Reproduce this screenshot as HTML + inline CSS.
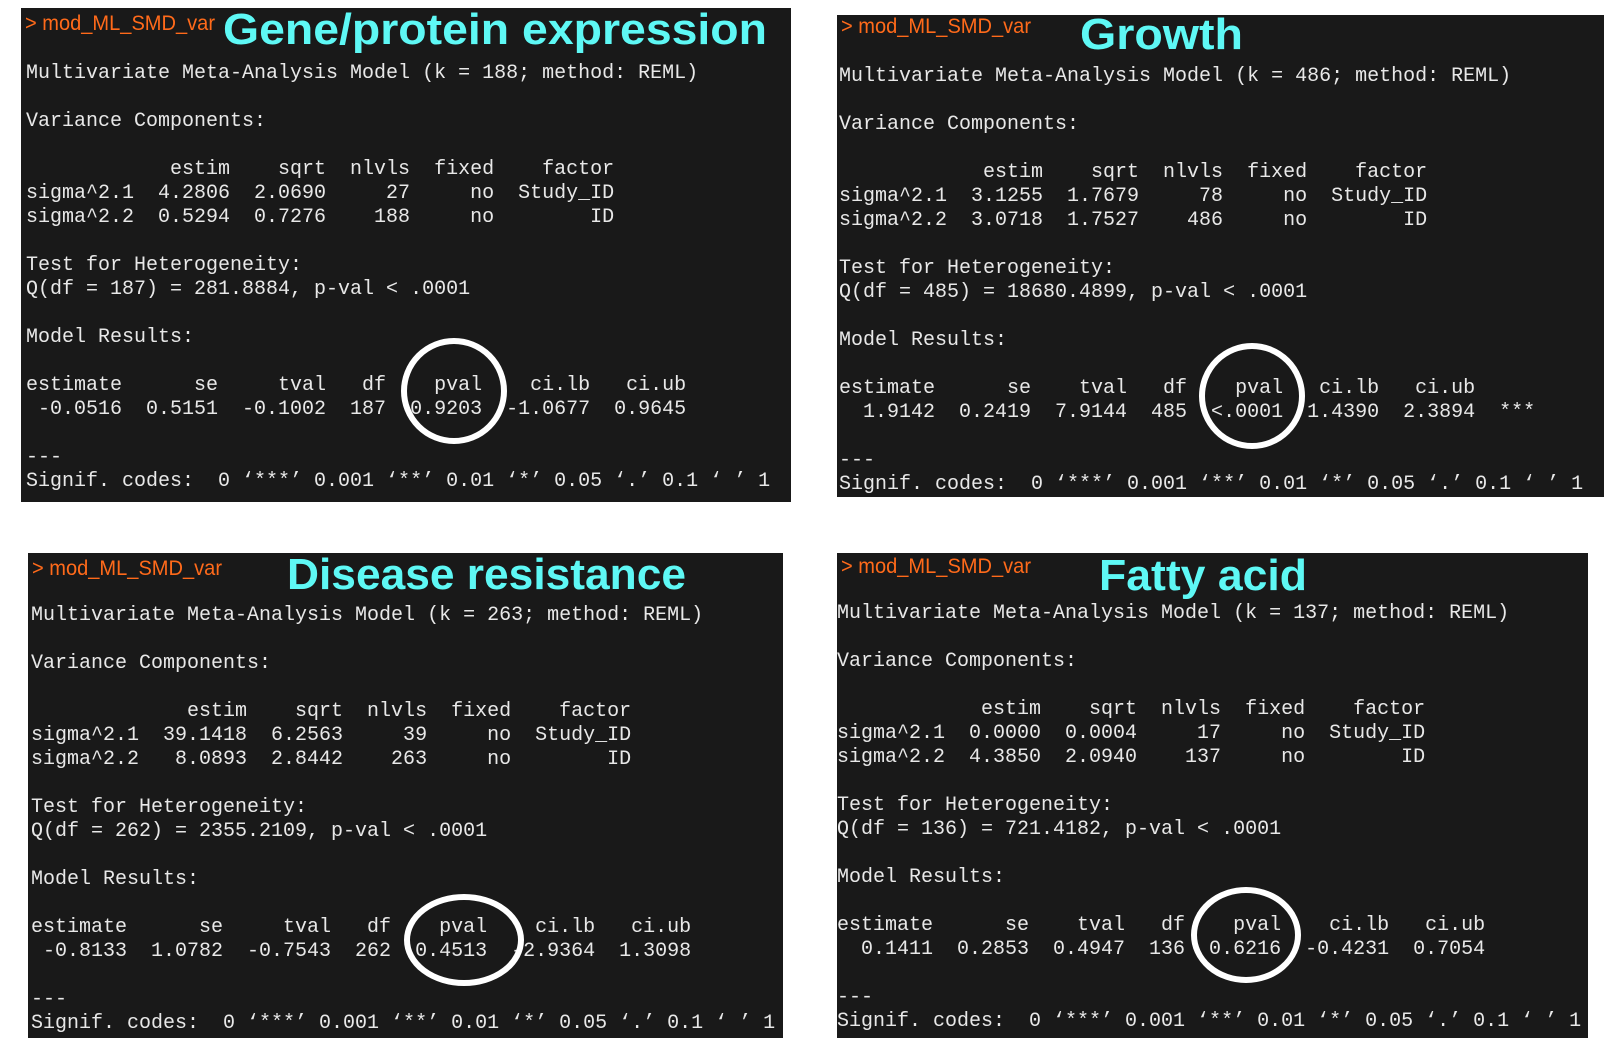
<!DOCTYPE html>
<html><head><meta charset="utf-8"><style>
html,body{margin:0;padding:0;background:#fff;}
svg{display:block}
.t{font-family:"Liberation Mono",monospace;font-size:20px;fill:#e8e8e8;white-space:pre}
.p{font-family:"Liberation Sans",sans-serif;font-size:21px;fill:#ff6a1a}
.h{font-family:"Liberation Sans",sans-serif;font-weight:bold;font-size:44px;fill:#5ef8f5}
</style></head><body>
<svg id="s" width="1624" height="1063" xmlns="http://www.w3.org/2000/svg"></svg>
<script>
const titles=["Gene/protein expression","Growth","Disease resistance","Fatty acid"];
const boxes=[[21,8,770,494],[837,15,767,482],[28,553,755,485],[837,553,751,485]];
const titleBox=[[223,767,29],[1080,1243,34],[287,686,574],[1099,1307,575]];
const promptY=[23,26,568,566];
const textOrigin=[[26,71],[839,74],[31,613],[837,611]];
const circles=[[454,391,50,50],[1252,396,50,50],[464,940,57,43],[1246,935,52,45]];
const outputs=[
["Multivariate Meta-Analysis Model (k = 188; method: REML)","","Variance Components:","",
"            estim    sqrt  nlvls  fixed    factor",
"sigma^2.1  4.2806  2.0690     27     no  Study_ID",
"sigma^2.2  0.5294  0.7276    188     no        ID","",
"Test for Heterogeneity:","Q(df = 187) = 281.8884, p-val < .0001","","Model Results:","",
"estimate      se     tval   df    pval    ci.lb   ci.ub",
" -0.0516  0.5151  -0.1002  187  0.9203  -1.0677  0.9645","","---",
"Signif. codes:  0 ‘***’ 0.001 ‘**’ 0.01 ‘*’ 0.05 ‘.’ 0.1 ‘ ’ 1"],
["Multivariate Meta-Analysis Model (k = 486; method: REML)","","Variance Components:","",
"            estim    sqrt  nlvls  fixed    factor",
"sigma^2.1  3.1255  1.7679     78     no  Study_ID",
"sigma^2.2  3.0718  1.7527    486     no        ID","",
"Test for Heterogeneity:","Q(df = 485) = 18680.4899, p-val < .0001","","Model Results:","",
"estimate      se    tval   df    pval   ci.lb   ci.ub",
"  1.9142  0.2419  7.9144  485  <.0001  1.4390  2.3894  ***","","---",
"Signif. codes:  0 ‘***’ 0.001 ‘**’ 0.01 ‘*’ 0.05 ‘.’ 0.1 ‘ ’ 1"],
["Multivariate Meta-Analysis Model (k = 263; method: REML)","","Variance Components:","",
"             estim    sqrt  nlvls  fixed    factor",
"sigma^2.1  39.1418  6.2563     39     no  Study_ID",
"sigma^2.2   8.0893  2.8442    263     no        ID","",
"Test for Heterogeneity:","Q(df = 262) = 2355.2109, p-val < .0001","","Model Results:","",
"estimate      se     tval   df    pval    ci.lb   ci.ub",
" -0.8133  1.0782  -0.7543  262  0.4513  -2.9364  1.3098","","---",
"Signif. codes:  0 ‘***’ 0.001 ‘**’ 0.01 ‘*’ 0.05 ‘.’ 0.1 ‘ ’ 1"],
["Multivariate Meta-Analysis Model (k = 137; method: REML)","","Variance Components:","",
"            estim    sqrt  nlvls  fixed    factor",
"sigma^2.1  0.0000  0.0004     17     no  Study_ID",
"sigma^2.2  4.3850  2.0940    137     no        ID","",
"Test for Heterogeneity:","Q(df = 136) = 721.4182, p-val < .0001","","Model Results:","",
"estimate      se    tval   df    pval    ci.lb   ci.ub",
"  0.1411  0.2853  0.4947  136  0.6216  -0.4231  0.7054","","---",
"Signif. codes:  0 ‘***’ 0.001 ‘**’ 0.01 ‘*’ 0.05 ‘.’ 0.1 ‘ ’ 1"]];
const NS="http://www.w3.org/2000/svg";
const svg=document.getElementById('s');
function mk(tag,attrs,parent){const e=document.createElementNS(NS,tag);for(const k in attrs)e.setAttribute(k,attrs[k]);parent.appendChild(e);return e;}
for(let i=0;i<4;i++){
  const g=mk('g',{},svg);
  
  
  const b=boxes[i];
  const r=mk('rect',{x:b[0],y:b[1],width:b[2],height:b[3],fill:'#191919'},g);
  
  
  const pr=mk('text',{x:b[0]+4,y:promptY[i]+7,class:'p',textLength:190,lengthAdjust:'spacingAndGlyphs'},g);
  pr.textContent='> mod_ML_SMD_var';
  
  
  const tb=titleBox[i];
  const tt=mk('text',{x:tb[0],y:tb[2]+15,class:'h',textLength:tb[1]-tb[0],lengthAdjust:'spacingAndGlyphs'},g);
  tt.textContent=titles[i];
  
  
  const o=textOrigin[i];
  outputs[i].forEach((line,j)=>{
    if(!line)return;
    const t=mk('text',{x:o[0],y:o[1]+j*24+7,class:'t','xml:space':'preserve'},g);
    t.textContent=line;
    
    
  });
  const c=circles[i];
  const el=mk('ellipse',{cx:c[0],cy:c[1],rx:c[2],ry:c[3],fill:'none',stroke:'#fff','stroke-width':6},g);
  
  
}
</script>
</body></html>
